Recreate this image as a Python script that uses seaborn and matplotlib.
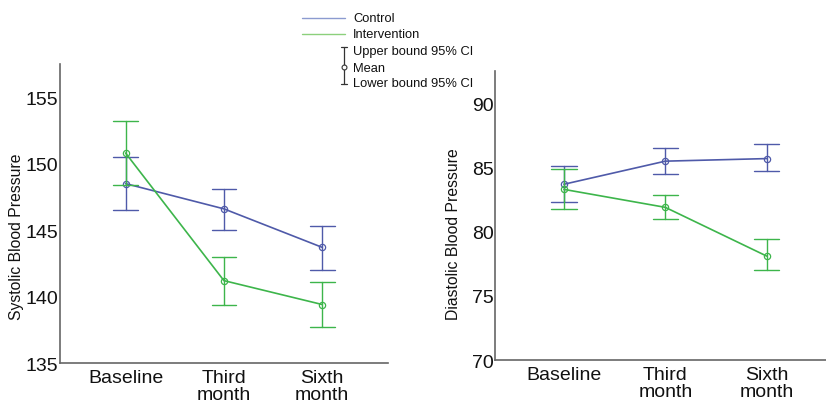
import matplotlib
matplotlib.use("Agg")
import matplotlib.pyplot as plt
import seaborn as sns
import pandas as pd

# categories and group names
CATEGORIES = ["Baseline", "Third\nmonth", "Sixth\nmonth"]
GROUPS = ["Control", "Intervention"]

# systolic: lower bound / mean / upper bound of 95% CI
SYS_CTRL_LOW  = [146.5, 145.0, 142.0]
SYS_CTRL_MEAN = [148.5, 146.6, 143.7]
SYS_CTRL_UP   = [150.5, 148.1, 145.3]
SYS_INT_LOW   = [148.4, 139.4, 137.7]
SYS_INT_MEAN  = [150.8, 141.2, 139.4]
SYS_INT_UP    = [153.2, 143.0, 141.1]

# diastolic
DIA_CTRL_LOW  = [82.3, 84.5, 84.7]
DIA_CTRL_MEAN = [83.7, 85.5, 85.7]
DIA_CTRL_UP   = [85.1, 86.5, 86.8]
DIA_INT_LOW   = [81.8, 81.0, 77.0]
DIA_INT_MEAN  = [83.3, 81.9, 78.1]
DIA_INT_UP    = [84.9, 82.9, 79.4]

SYS_TICKS = [135, 140, 145, 150, 155]
DIA_TICKS = [70, 75, 80, 85, 90]

COLORS = {"Control": "#4f5aa9", "Intervention": "#3db54b"}
LEGEND_COLORS = {"Control": "#8c9bd0", "Intervention": "#8cd07c"}
SPINE = "#666666"
TEXT = "#111111"


def long_frame(ctrl, interv):
    # each cell gets three rows (low, mean, up); median -> mean, full range -> CI
    rows = []
    for grp, series in zip(GROUPS, [ctrl, interv]):
        for vals in series:
            for cat, v in zip(CATEGORIES, vals):
                rows.append({"time": cat, "group": grp, "value": v})
    return pd.DataFrame(rows)


sns.set_style("white")
plt.rcParams["font.family"] = ["Liberation Sans", "DejaVu Sans"]

fig = plt.figure(figsize=(8.26, 4.06), dpi=100)
ax_sys = fig.add_axes([0.0726, 0.1034, 0.397, 0.7365])
ax_dia = fig.add_axes([0.5993, 0.1108, 0.4007, 0.711])

panels = [
    (ax_sys, long_frame([SYS_CTRL_LOW, SYS_CTRL_MEAN, SYS_CTRL_UP],
                        [SYS_INT_LOW, SYS_INT_MEAN, SYS_INT_UP]),
     "Systolic Blood Pressure", SYS_TICKS, (135, 157.5), (-0.667, 2.667)),
    (ax_dia, long_frame([DIA_CTRL_LOW, DIA_CTRL_MEAN, DIA_CTRL_UP],
                        [DIA_INT_LOW, DIA_INT_MEAN, DIA_INT_UP]),
     "Diastolic Blood Pressure", DIA_TICKS, (70, 92.5), (-0.68, 2.585)),
]

for ax, df, ylabel, yticks, ylim, xlim in panels:
    sns.pointplot(data=df, x="time", y="value", hue="group",
                  order=CATEGORIES, hue_order=GROUPS, palette=COLORS,
                  estimator="median", errorbar=("pi", 100), capsize=0.25,
                  dodge=False, legend=False, ax=ax,
                  markers="o", linewidth=1.2, markersize=4.5,
                  markeredgewidth=0.9, markerfacecolor="none",
                  err_kws={"linewidth": 1.0})
    ax.set_xlim(*xlim)
    ax.set_ylim(*ylim)
    ax.set_yticks(yticks)
    ax.set_xlabel("")
    ax.set_ylabel(ylabel, fontsize=11.3, color=TEXT)
    ax.tick_params(axis="both", length=0, labelsize=14, labelcolor=TEXT)
    ax.tick_params(axis="y", pad=1)
    ax.tick_params(axis="x", pad=4)
    for lab in ax.get_xticklabels():
        lab.set_linespacing(1.05)
    for side in ["top", "right"]:
        ax.spines[side].set_visible(False)
    for side in ["left", "bottom"]:
        ax.spines[side].set_color(SPINE)
        ax.spines[side].set_linewidth(1.2)

ax_sys.yaxis.set_label_coords(-0.11, 0.425)
ax_dia.yaxis.set_label_coords(-0.103, 0.44)

# legend drawn in pixel coordinates on an overlay
leg = fig.add_axes([0, 0, 1, 1], facecolor="none")
leg.set_xlim(0, 826)
leg.set_ylim(406, 0)
leg.axis("off")
for grp, y in zip(GROUPS, [19, 35]):
    leg.plot([302, 345], [y, y], color=LEGEND_COLORS[grp], lw=1.0)
    leg.text(353, y + 0.5, grp, fontsize=9.3, va="center", ha="left", color=TEXT)
leg.plot([344, 344], [48, 85], color="#333333", lw=0.9)
leg.plot([341, 347], [48, 48], color="#333333", lw=0.9)
leg.plot([341, 347], [85, 85], color="#333333", lw=0.9)
leg.plot([344], [67.5], marker="o", ms=3.5, mfc="white", mec="#333333", mew=0.8)
for label, y in [("Upper bound 95% CI", 52), ("Mean", 69.5), ("Lower bound 95% CI", 84)]:
    leg.text(353, y, label, fontsize=9.3, va="center", ha="left", color=TEXT)

plt.savefig("out.png", dpi=100)
plt.close()
